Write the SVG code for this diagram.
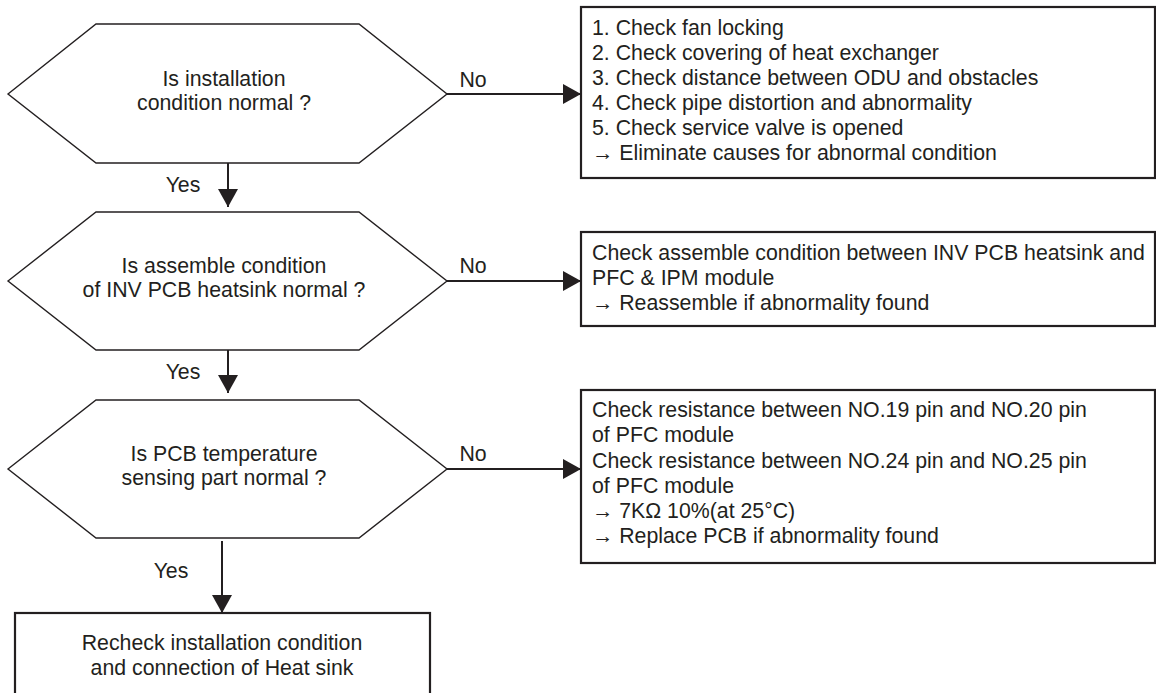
<svg xmlns="http://www.w3.org/2000/svg" width="1156" height="693" viewBox="0 0 1156 693">
<defs>
<style>
text{font-family:"Liberation Sans",Arial,Helvetica,sans-serif;font-size:21.3px;fill:#231f20}
.c{text-anchor:middle}
.hex{fill:#fff;stroke:#231f20;stroke-width:1.4}
.box{fill:#fff;stroke:#231f20;stroke-width:2.2}
.con line{stroke:#231f20;stroke-width:2;marker-end:url(#ah)}
</style>
<marker id="ah" markerWidth="18" markerHeight="20" refX="18" refY="10" orient="auto" markerUnits="userSpaceOnUse">
<path d="M0,0 L18,10 L0,20 z" fill="#231f20"/>
</marker>
</defs>
<rect width="1156" height="693" fill="#fff"/>

<g id="q1">
<polygon class="hex" points="8,94 96,24 359,24 447,94 359,163 96,163"/>
<text class="c" x="224" y="86">Is installation</text>
<text class="c" x="224" y="110">condition normal ?</text>
</g>

<g id="a1">
<rect class="box" x="581" y="7" width="574" height="171"/>
<text x="592" y="35">1. Check fan locking</text>
<text x="592" y="60">2. Check covering of heat exchanger</text>
<text x="592" y="85">3. Check distance between ODU and obstacles</text>
<text x="592" y="110">4. Check pipe distortion and abnormality</text>
<text x="592" y="135">5. Check service valve is opened</text>
<text x="592" y="160">→ Eliminate causes for abnormal condition</text>
</g>

<g id="q2">
<polygon class="hex" points="8,281 96,212 359,212 447,281 359,350 96,350"/>
<text class="c" x="224" y="273">Is assemble condition</text>
<text class="c" x="224" y="297">of INV PCB heatsink normal ?</text>
</g>

<g id="a2">
<rect class="box" x="581" y="232" width="574" height="94"/>
<text x="592" y="260">Check assemble condition between INV PCB heatsink and</text>
<text x="592" y="285">PFC &amp; IPM module</text>
<text x="592" y="310">→ Reassemble if abnormality found</text>
</g>

<g id="q3">
<polygon class="hex" points="8,469 96,400 359,400 447,469 359,538 96,538"/>
<text class="c" x="224" y="461">Is PCB temperature</text>
<text class="c" x="224" y="485">sensing part normal ?</text>
</g>

<g id="a3">
<rect class="box" x="581" y="390" width="574" height="173"/>
<text x="592" y="417">Check resistance between NO.19 pin and NO.20 pin</text>
<text x="592" y="442">of PFC module</text>
<text x="592" y="467.5">Check resistance between NO.24 pin and NO.25 pin</text>
<text x="592" y="492.5">of PFC module</text>
<text x="592" y="518">→ 7KΩ 10%(at 25°C)</text>
<text x="592" y="543">→ Replace PCB if abnormality found</text>
</g>

<g id="end">
<rect class="box" x="15" y="613" width="415" height="100"/>
<text class="c" x="222" y="650">Recheck installation condition</text>
<text class="c" x="222" y="675">and connection of Heat sink</text>
</g>

<g id="connectors" class="con">
<line x1="447" y1="94" x2="581" y2="94"/>
<line x1="447" y1="281" x2="581" y2="281"/>
<line x1="447" y1="469" x2="581" y2="469"/>
<line x1="228" y1="163" x2="228" y2="207"/>
<line x1="228" y1="350" x2="228" y2="393"/>
<line x1="222" y1="541" x2="222" y2="613"/>
<text class="c" x="473" y="87">No</text>
<text class="c" x="473" y="273">No</text>
<text class="c" x="473" y="461">No</text>
<text class="c" x="183" y="192">Yes</text>
<text class="c" x="183" y="379">Yes</text>
<text class="c" x="171" y="578">Yes</text>
</g>
</svg>
